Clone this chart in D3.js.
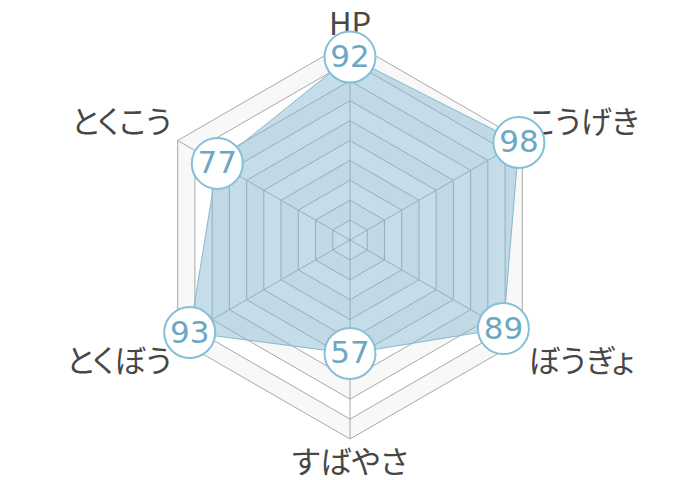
<!doctype html>
<html>
<head>
<meta charset="utf-8">
<script src="https://d3js.org/d3.v7.min.js"></script>
<style>
body { margin: 0; background: #fff; }
svg { display: block; }
.label { font-feature-settings: "palt"; }
</style>
</head>
<body>
<svg id="chart" width="700" height="480"></svg>
<script>
// stats, clockwise from the top
var labels = ["HP", "こうげき", "ぼうぎょ", "すばやさ", "とくぼう", "とくこう"];
var values = [92, 98, 89, 57, 93, 77];
var ticks = [10, 20, 30, 40, 50, 60, 70, 80, 90, 100];

var cx = 350, cy = 240, R = 199;
var svg = d3.select("#chart");
var g = svg.append("g").attr("transform", "translate(" + cx + "," + cy + ")");

var r = d3.scaleLinear().domain([0, 100]).range([0, R]);
var angle = d3.scaleLinear().domain([0, labels.length]).range([0, 2 * Math.PI]);

function pt(i, v) {
	var a = angle(i);
	return [Math.sin(a) * r(v), -Math.cos(a) * r(v)];
}

function ring(v) {
	return labels.map(function(d, i) { return pt(i, v); });
}

var line = d3.line().curve(d3.curveLinearClosed);

// grid bands, drawn from outside in
g.selectAll("path.band")
	.data(ticks.slice().reverse())
	.join("path")
	.attr("class", "band")
	.attr("d", function(v) { return line(ring(v)); })
	.attr("fill", function(v, i) { return i % 2 === 0 ? "#f8f8f8" : "#ffffff"; })
	.attr("stroke", "#a8a8a8")
	.attr("stroke-width", 1);

g.selectAll("line.spoke")
	.data(labels)
	.join("line")
	.attr("class", "spoke")
	.attr("x1", 0).attr("y1", 0)
	.attr("x2", function(d, i) { return pt(i, 100)[0]; })
	.attr("y2", function(d, i) { return pt(i, 100)[1]; })
	.attr("stroke", "#a8a8a8")
	.attr("stroke-width", 1);

// data area
g.append("path")
	.attr("d", line(values.map(function(v, i) { return pt(i, v); })))
	.attr("fill", "rgba(128,180,204,0.46)")
	.attr("stroke", "#86b8cf")
	.attr("stroke-width", 1);

// axis labels
var labelPos = [
	{dx: 0, dy: -20, anchor: "middle"},
	{dx: 6, dy: -21, anchor: "start"},
	{dx: 6, dy: 19, anchor: "start"},
	{dx: 0, dy: 20, anchor: "middle"},
	{dx: -6, dy: 19, anchor: "end"},
	{dx: -6, dy: -21, anchor: "end"}
];
g.selectAll("text.label")
	.data(labels)
	.join("text")
	.attr("class", "label")
	.attr("x", function(d, i) { return pt(i, 100)[0] + labelPos[i].dx; })
	.attr("y", function(d, i) { return pt(i, 100)[1] + labelPos[i].dy; })
	.attr("text-anchor", function(d, i) { return labelPos[i].anchor; })
	.attr("dominant-baseline", "central")
	.attr("font-family", "'Noto Sans CJK JP', 'Noto Sans', sans-serif")
	.attr("font-size", 31)
	.attr("fill", "#474747")
	.text(function(d) { return d; });

// value bubbles
var bubble = g.selectAll("g.bubble")
	.data(values)
	.join("g")
	.attr("class", "bubble")
	.attr("transform", function(v, i) { return "translate(" + pt(i, v) + ")"; });

bubble.append("circle")
	.attr("r", 25.5)
	.attr("fill", "#fff")
	.attr("stroke", "#85bfd8")
	.attr("stroke-width", 2);

bubble.append("text")
	.attr("text-anchor", "middle")
	.attr("dominant-baseline", "central")
	.attr("y", -1)
	.attr("font-family", "'DejaVu Sans', sans-serif")
	.attr("font-size", 31)
	.attr("fill", "#6ba8c4")
	.text(function(v) { return v; });
</script>
</body>
</html>
